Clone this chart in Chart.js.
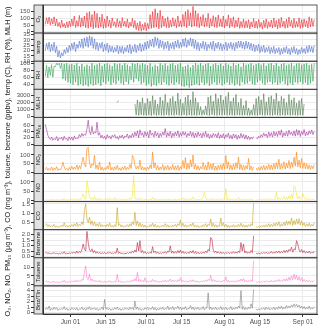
<!DOCTYPE html>
<html>
<head>
<meta charset="utf-8">
<script src="https://cdn.jsdelivr.net/npm/chart.js@4.4.0/dist/chart.umd.min.js"></script>
<style>
  html, body { margin: 0; padding: 0; background: #fff; }
</style>
</head>
<body>
<canvas id="chart" width="320" height="327"></canvas>
<script>
// days are counted from Jun 01; values are every 12 hours starting May 22
const startDay = -10;
const stepDays = 0.5;

const dateTicks = [0, 14, 30, 44, 61, 75, 92];
const dateLabels = ["Jun 01", "Jun 15", "Jul 01", "Jul 15", "Aug 01", "Aug 15", "Sep 01"];

// panels, top to bottom
const panelNames = ["O₃", "temp", "RH", "MLH", "PM₁₀", "NO₂", "NO", "CO", "Benzene", "Toluene", "Bnz/Tln"];
const panelColors = ["#e8242a", "#4f6fcf", "#31a354", "#4e7a4e", "#a1339c", "#ff7f00",
                     "#f5e52e", "#c9a21b", "#b8233f", "#ff78c8", "#7f7f7f"];
const panelMin = [-10, 10, 25, -180, -4, -8, -6, 0.13, -0.12, -0.8, -0.25];
const panelMax = [200, 36.5, 106, 3950, 84, 155, 145, 1.62, 2.45, 15.5, 4.85];
const panelTicks = [
  [0, 50, 100, 150],
  [10, 15, 20, 25, 30, 35],
  [40, 60, 80, 100],
  [0, 1000, 2000, 3000],
  [0, 20, 40, 60],
  [0, 50, 100],
  [0, 50, 100],
  [0.5, 1.0, 1.5],
  [0, 0.5, 1.0, 1.5, 2.0],
  [0, 5, 10],
  [0, 1, 2, 3, 4]
];
const tickDecimals = [0, 0, 0, 0, 0, 0, 0, 1, 1, 0, 0];

const o3 = [
  55,105,60,110,52,98,58,112,45,95,40,70,30,88,35,62,28,75,30,80,
  38,95,45,118,32,84,40,122,35,105,42,118,30,142,25,150,35,128,22,155,
  30,138,28,110,35,132,25,96,30,118,40,88,28,104,45,75,32,98,38,82,
  30,106,42,80,35,96,28,72,40,100,30,84,15,66,10,78,5,55,12,70,
  8,62,20,128,25,150,30,172,35,140,22,160,30,118,40,100,32,112,28,88,
  35,105,42,92,30,118,38,84,35,130,40,150,30,165,45,142,35,190,42,158,
  38,136,30,112,45,128,35,104,40,138,28,98,42,120,35,110,30,126,40,96,
  35,118,30,92,42,126,28,100,38,112,30,88,36,104,25,78,32,95,28,82,
  30,90,22,74,35,98,28,80,25,92,32,70,20,86,30,96,25,76,35,88,
  28,102,35,84,22,96,30,108,38,80,25,94,30,110,40,86,28,100,32,78,
  35,104,25,90,30,96,38,82,28,112,35,98,40,92
];
const temp = [
  20,27,21,28,19,26,20,28,18,24,14,20,13,18,15,21,17,23,18,25,
  20,27,21,28,19,26,22,29,23,31,22,32,24,33,23,34,25,33,22,31,
  21,28,20,27,22,28,19,26,20,27,18,25,19,24,18,23,19,25,17,24,
  18,24,17,23,19,25,18,26,17,24,19,26,18,25,20,27,19,26,20,28,
  21,29,22,30,24,31,23,33,25,32,22,30,23,29,21,28,22,29,20,27,
  22,28,21,29,23,30,22,28,23,31,24,32,23,30,25,32,24,31,22,30,
  21,28,20,27,22,29,21,28,20,26,22,28,21,29,20,27,22,28,21,27,
  20,26,21,28,20,27,22,28,21,27,20,28,22,29,23,29,22,28,21,29,
  22,28,21,27,20,26,19,25,20,26,18,24,19,25,18,23,19,24,17,23,
  18,24,17,22,18,23,16,22,17,23,18,24,17,22,16,23,18,24,17,22,
  16,21,17,23,18,22,17,24,18,25,19,24,18,25
];
const rh = [
  62,94,58,90,65,96,60,92,90,100,95,100,85,100,55,98,50,100,45,96,
  42,98,38,95,45,100,36,92,40,98,35,90,38,96,33,92,40,100,36,94,
  38,97,42,100,35,93,45,98,40,100,48,96,38,92,44,100,40,97,50,99,
  42,95,38,100,46,96,40,92,52,100,45,98,55,100,48,96,40,100,44,97,
  36,94,40,100,33,90,38,96,35,92,42,100,38,95,45,99,40,93,36,98,
  42,100,38,94,45,97,40,100,34,90,32,92,36,96,30,88,35,95,38,100,
  40,96,36,100,44,94,38,98,42,100,35,92,40,97,45,100,38,95,42,99,
  36,93,40,100,44,96,38,92,42,100,36,95,40,98,35,90,45,100,40,96,
  42,97,48,100,40,94,38,98,45,100,50,96,42,100,38,93,44,99,46,100,
  40,95,44,100,38,92,42,98,48,100,40,94,36,97,42,100,38,93,45,99,
  42,100,46,96,40,98,44,100,38,95,42,97,48,100
];
const mlh = [
  null,null,null,null,null,null,null,null,null,null,null,null,null,null,null,null,null,null,null,null,
  null,null,null,null,null,null,null,null,null,null,null,null,null,null,null,null,null,null,null,null,
  null,null,null,null,null,null,null,null,null,null,null,null,null,null,null,null,null,2000,2300,null,
  null,null,null,null,null,null,null,null,null,null,null,1800,150,2400,100,2100,200,2700,120,1900,
  100,2600,150,2200,80,3000,200,2400,100,1800,150,2800,120,2300,90,3200,180,2000,100,2600,
  150,2900,100,2200,200,3400,120,2500,100,1900,180,2800,90,3100,150,2400,110,3600,130,2700,
  100,2000,160,1400,120,900,200,1500,140,2800,100,3000,180,2200,120,3300,90,2600,150,3100,
  110,2400,170,2900,100,3500,140,2200,120,2700,90,3200,160,2000,130,2600,100,1600,150,2300,
  120,1200,100,900,150,1700,110,2600,90,2900,170,2400,130,3300,100,2100,150,2800,120,3000,
  100,2500,160,3400,130,2200,90,2900,140,2600,110,2000,170,3200,100,2400,150,2700,120,1900,
  100,2300,140,2600,120,1800,null,null,null,null,null,null,null,null
];
const pm10 = [
  62,45,28,20,15,22,12,18,14,24,10,20,16,22,12,25,15,19,11,23,
  14,22,12,26,16,20,18,30,22,34,25,32,28,48,75,40,30,56,32,38,
  35,69,28,36,20,28,18,25,15,30,20,26,16,28,22,30,18,24,15,27,
  20,29,17,26,22,32,18,28,20,34,22,38,25,42,20,45,28,36,22,40,
  25,38,20,44,28,35,22,40,25,36,20,34,24,38,28,49,22,36,25,40,
  20,35,24,38,26,42,22,36,25,40,28,38,22,34,26,40,24,37,20,35,
  22,38,25,34,20,36,24,40,22,33,18,30,20,34,24,32,20,36,18,30,
  20,33,17,30,22,35,18,28,16,32,20,30,15,28,18,34,20,31,16,29,
  15,25,14,22,16,24,null,20,17,25,20,30,22,35,25,32,20,38,24,36,
  22,40,26,38,24,42,28,45,22,36,26,40,25,44,30,38,27,42,25,46,
  28,44,24,40,30,46,26,38,28,42,32,45,30,40
];
const no2 = [
  15,28,10,22,12,30,8,25,14,32,10,20,12,26,58,30,14,22,10,28,
  12,35,15,30,18,42,14,38,20,55,87,45,30,136,145,60,25,48,40,97,
  20,42,15,58,12,30,10,26,14,35,18,60,12,28,10,32,15,40,12,25,
  10,30,14,36,12,28,16,45,22,97,80,40,18,35,20,70,14,32,12,28,
  10,30,15,42,20,116,25,55,14,38,12,30,16,44,10,35,14,40,12,32,
  15,45,12,36,14,40,10,33,18,68,22,85,15,50,20,72,30,100,18,45,
  14,38,12,32,18,56,15,42,12,60,16,48,14,52,10,35,12,40,15,44,
  14,50,18,97,20,60,15,42,12,48,16,55,22,88,15,46,12,40,14,38,
  18,80,12,36,10,30,null,25,10,28,12,34,14,40,12,36,16,45,14,42,
  15,50,18,55,20,75,16,48,22,60,18,52,25,68,20,58,28,87,35,116,
  30,70,25,80,22,55,20,48,18,42,15,38,20,45
];
const no = [
  2,6,1,4,3,8,2,5,1,7,2,4,3,9,2,12,1,5,2,6,
  3,8,2,10,4,12,3,9,5,18,35,12,8,107,64,20,6,15,4,22,
  3,10,2,14,4,8,2,6,3,12,2,15,4,9,3,16,2,8,3,11,
  2,7,3,10,2,6,4,14,5,22,134,18,4,12,3,15,2,8,3,6,
  2,5,3,10,4,18,3,12,2,8,3,6,2,10,3,7,2,9,3,6,
  2,8,3,6,2,10,3,7,4,15,3,12,2,8,3,14,4,20,3,9,
  2,7,3,10,4,22,44,12,3,9,2,8,3,12,2,7,3,10,2,8,
  3,12,4,64,3,14,2,8,3,10,2,7,4,18,3,9,2,6,3,8,
  2,10,3,7,2,6,null,5,1,6,2,8,3,10,2,9,3,12,2,8,
  3,10,4,44,5,15,3,12,6,22,4,18,5,25,8,35,10,80,70,30,
  8,22,6,18,38,15,5,12,4,10,3,8,4,9
];
const co = [
  0.35,0.45,0.3,0.4,0.28,0.36,0.3,0.42,0.26,0.34,0.25,0.32,0.28,0.38,0.3,0.5,0.27,0.35,0.26,0.36,
  0.28,0.4,0.3,0.45,0.32,0.5,0.3,0.42,0.35,0.55,0.4,1.14,1.5,0.7,0.5,0.8,0.4,0.6,0.35,0.55,
  0.32,0.45,0.3,0.5,0.28,0.4,0.3,0.38,0.27,0.42,0.3,0.48,0.28,0.36,0.26,0.4,0.3,1.3,0.35,0.45,
  0.28,0.38,0.26,0.34,0.3,0.4,0.28,0.45,0.32,0.55,0.4,1.05,0.35,0.6,0.3,0.5,0.28,0.42,0.26,0.38,
  0.25,0.33,0.27,0.4,0.3,0.48,0.28,0.42,0.26,0.36,0.25,0.34,0.27,0.38,0.3,0.45,0.28,0.4,0.26,0.35,
  0.27,0.38,0.3,0.42,0.28,0.45,0.35,0.65,0.3,0.48,0.28,0.4,0.26,0.36,0.3,0.44,0.32,0.5,0.28,0.38,
  0.26,0.35,0.25,0.33,0.28,0.4,0.3,0.45,0.28,0.42,0.35,0.7,0.3,0.48,0.28,0.4,0.26,0.38,0.3,0.75,
  0.32,0.5,0.28,0.42,0.26,0.38,0.25,0.35,0.27,0.4,0.26,0.36,0.28,0.42,0.3,0.48,0.28,0.4,0.26,0.38,
  0.27,0.4,0.3,0.45,0.35,1.55,null,0.3,0.25,0.32,0.26,0.35,0.28,0.38,0.27,0.4,0.3,0.45,0.28,0.42,
  0.3,0.48,0.32,0.5,0.35,0.55,0.3,0.45,0.33,0.52,0.35,0.6,0.38,0.58,0.4,0.75,0.36,0.62,0.4,0.7,
  0.42,0.72,0.38,0.6,0.35,0.5,0.3,0.45,0.32,0.48,0.3,0.42,0.33,0.5
];
const benzene = [
  0.3,0.4,0.25,0.35,0.22,0.3,0.28,0.38,0.24,0.32,0.2,0.3,0.25,0.35,0.28,0.45,0.22,0.32,0.24,0.34,
  0.26,0.38,0.3,0.42,0.28,0.5,0.3,0.45,0.35,0.6,1.14,0.7,0.5,2.3,1.28,0.6,0.45,0.7,0.35,0.55,
  0.3,0.45,0.28,0.4,0.25,0.35,0.27,0.38,0.24,0.36,0.3,0.42,0.26,0.34,0.25,0.38,0.3,0.77,0.28,0.4,
  0.24,0.34,0.22,0.3,0.25,0.36,0.28,0.4,0.3,0.5,0.35,0.6,0.4,1.28,0.5,1.45,0.35,0.55,0.3,0.45,
  0.26,0.36,0.28,0.4,0.3,0.9,0.35,0.5,0.28,0.42,0.25,0.35,0.27,0.4,0.3,0.45,0.28,0.5,0.4,0.98,
  0.3,0.5,0.28,0.45,0.3,0.55,0.32,0.6,0.3,0.48,0.28,0.42,0.26,0.38,0.3,0.5,0.32,0.55,0.28,0.45,
  0.26,0.4,0.24,0.36,0.28,0.42,0.3,0.5,0.35,0.65,0.5,1.74,1.6,0.6,0.35,0.5,0.3,0.45,0.28,0.42,
  0.26,0.38,0.25,0.36,0.28,0.4,0.26,0.38,0.3,0.45,0.28,0.42,0.3,0.5,0.35,1.28,0.5,1.14,0.32,0.5,
  0.28,0.42,0.3,0.55,0.35,1.9,null,0.3,0.24,0.32,0.25,0.35,0.26,0.38,0.28,0.4,0.26,0.36,0.3,0.45,
  0.28,0.42,0.3,0.48,0.32,0.5,0.3,0.45,0.34,0.55,0.35,0.6,0.38,0.65,0.5,0.86,0.4,0.7,0.6,1.45,
  1.14,0.6,0.4,0.65,0.35,0.55,0.3,0.45,0.32,0.5,0.28,0.42,0.3,0.48
];
const toluene = [
  1.5,2.2,1.2,1.8,1,1.6,1.3,2,1.1,1.7,0.9,1.5,1.2,1.9,1.4,2.5,1.1,1.6,1.2,1.8,
  1.3,2,1.5,2.4,1.4,2.6,1.6,2.2,1.8,3,2.5,6.9,10.8,3.5,2.8,6.2,2.2,3.2,1.8,2.6,
  1.5,2.2,1.4,2.5,1.2,1.8,1.3,2,1.1,1.9,1.4,2.3,1.2,1.7,1.1,2,1.5,6,1.4,2.2,
  1.2,1.8,1,1.6,1.3,2,1.4,2.2,1.6,2.8,1.8,3.5,2,7,1.8,3,1.6,2.5,1.5,4,
  1.3,2,1.4,2.2,1.5,3,1.6,2.5,1.4,2.1,1.2,1.9,1.4,2.3,1.6,2.6,1.5,2.4,1.8,3.2,
  1.6,2.6,1.5,2.4,1.6,2.8,1.8,4,1.6,2.5,1.5,2.2,1.4,2,1.6,2.6,1.7,2.8,1.5,2.3,
  1.4,2.1,1.3,1.9,1.5,2.3,1.6,2.6,1.8,3,2.2,5.3,1.8,3,1.6,2.5,1.5,2.2,1.4,2.1,
  1.5,2.4,2,4.5,1.6,2.5,1.4,2.1,1.5,2.3,1.4,2.2,1.6,2.6,1.8,3.2,2,3.6,1.6,2.5,
  1.5,2.3,1.6,2.8,1.8,13.8,null,1.5,1.1,1.7,1.2,1.8,1.3,2,1.4,2.2,1.3,2,1.5,2.4,
  1.4,2.2,1.6,2.6,1.8,3,1.6,2.5,1.9,3.2,2,3.6,2.2,4.2,2.5,5,2.8,6,3,5.5,
  2.5,4.5,2.2,4,1.8,3,1.6,2.6,1.5,2.4,1.4,2.2,1.6,2.5
];
const bnzTln = [
  0.5,0.9,0.6,1.2,0.4,0.8,0.5,1,0.6,0.9,0.4,0.7,0.5,0.8,0.6,1.1,0.5,0.8,0.4,0.7,
  0.5,0.9,0.6,0.8,0.5,0.9,0.4,0.7,0.6,1,0.5,0.8,0.4,0.9,0.6,1.1,0.5,0.8,0.6,0.9,
  0.5,0.8,0.4,0.7,0.6,1,0.5,2.4,0.6,0.9,0.5,0.8,0.4,0.7,0.5,0.9,0.6,1,0.5,0.8,
  0.4,0.7,0.5,0.9,0.6,0.8,0.5,1,0.6,0.9,0.5,2.1,0.6,1,0.5,0.8,0.4,0.7,0.5,0.9,
  0.6,1,0.5,0.8,0.6,1.1,0.5,0.9,0.4,0.8,0.5,0.9,0.6,1,0.5,0.8,0.6,1.2,0.5,0.9,
  0.6,1.1,0.5,0.9,0.7,1.2,0.6,1,0.5,0.9,0.6,1.1,0.5,0.8,0.7,1.3,0.6,1,0.5,0.9,
  0.6,1,0.5,0.8,0.6,1.1,0.5,0.9,0.8,3.6,0.6,1,0.5,0.9,0.6,1,0.5,0.8,0.6,1.1,
  0.5,0.9,0.6,1,0.5,0.8,0.6,1.1,0.5,0.9,0.6,1,0.7,1.2,0.8,4,0.6,1.1,0.5,0.9,
  0.6,1,0.7,1.6,0.8,4.2,null,0.7,0.4,0.7,0.5,0.8,0.6,0.9,0.5,1,0.6,0.9,0.5,0.8,
  0.6,1,0.5,0.9,0.6,1.1,0.7,1.2,0.6,1,0.7,1.3,0.8,1.2,0.9,1.4,1,1.6,1.1,1.5,
  1,1.4,0.8,1.2,0.7,1.1,0.6,1,0.7,1.2,0.6,0.9,0.7,1.1
];

const series = [o3, temp, rh, mlh, pm10, no2, no, co, benzene, toluene, bnzTln];
const yTitle = "O₃, NO₂, NO, PM₁₀ (µg m⁻³), CO (mg m⁻³), toluene, benzene (ppbv), temp (C), RH (%), MLH (m)";

const fontFamily = '"Liberation Sans", Arial, sans-serif';
const inkColor = "#333333";

const datasets = series.map((vals, k) => ({
  label: panelNames[k],
  yAxisID: "p" + k,
  data: vals.map((v, i) => ({ x: startDay + i * stepDays, y: v })),
  borderColor: panelColors[k],
  borderWidth: 0.6,
  pointRadius: 0,
  tension: 0,
  spanGaps: false,
  fill: false
}));

const scales = {
  x: {
    type: "linear",
    position: "bottom",
    min: -10.9,
    max: 97.6,
    afterBuildTicks: (s) => { s.ticks = dateTicks.map(v => ({ value: v })); },
    afterFit: (s) => { s.height = 13; },
    ticks: {
      autoSkip: false, maxRotation: 0, padding: 1,
      color: "#4d4d4d", font: { family: fontFamily, size: 6.5 },
      callback: (v) => dateLabels[dateTicks.indexOf(v)]
    },
    grid: { color: "#ebebeb", tickColor: inkColor, tickLength: 3 },
    border: { color: inkColor }
  }
};
// bottom panel first: Chart.js stacks later-defined left axes above earlier ones
for (let k = panelNames.length - 1; k >= 0; k--) {
  scales["p" + k] = {
    type: "linear",
    position: "left",
    stack: "panels",
    stackWeight: 1,
    min: panelMin[k],
    max: panelMax[k],
    afterBuildTicks: (s) => { s.ticks = panelTicks[k].map(v => ({ value: v })); },
    afterFit: (s) => { s.width = 43; },
    ticks: {
      autoSkip: false, padding: 1,
      color: "#4d4d4d", font: { family: fontFamily, size: 6 },
      callback: (v) => Number(v).toFixed(tickDecimals[k])
    },
    grid: { color: "#ebebeb", tickColor: inkColor, tickLength: 12 },
    border: { color: inkColor }
  };
}

// strips, panel frames and the shared y title
const panelFrames = {
  id: "panelFrames",
  afterDraw(chart) {
    const { ctx, chartArea: a } = chart;
    ctx.save();
    panelNames.forEach((name, k) => {
      const s = chart.scales["p" + k];
      const h = s.bottom - s.top;
      ctx.fillStyle = "#e2e2e2";
      ctx.fillRect(a.left - 9, s.top, 9, h);
      ctx.strokeStyle = inkColor;
      ctx.lineWidth = 0.8;
      ctx.strokeRect(a.left - 9, s.top, 9, h);
      ctx.strokeRect(a.left, s.top, a.right - a.left, h);
      ctx.save();
      ctx.translate(a.left - 4.3, (s.top + s.bottom) / 2);
      ctx.rotate(-Math.PI / 2);
      ctx.fillStyle = "#1a1a1a";
      ctx.font = "6px " + fontFamily;
      ctx.textAlign = "center";
      ctx.textBaseline = "middle";
      ctx.fillText(name, 0, 0);
      ctx.restore();
    });

    let size = 7.5;
    ctx.font = size + "px " + fontFamily;
    const w = ctx.measureText(yTitle).width;
    if (w > 312) size = size * 312 / w;
    ctx.translate(8, (a.top + a.bottom) / 2 + 2);
    ctx.rotate(-Math.PI / 2);
    ctx.font = size + "px " + fontFamily;
    ctx.fillStyle = "#1a1a1a";
    ctx.textAlign = "center";
    ctx.textBaseline = "middle";
    ctx.fillText(yTitle, 0, 0);
    ctx.restore();
  }
};

new Chart(document.getElementById("chart").getContext("2d"), {
  type: "line",
  data: { datasets },
  options: {
    responsive: false,
    animation: false,
    devicePixelRatio: 1,
    layout: { padding: { top: 5, right: 3, left: 0, bottom: 0 } },
    plugins: { legend: { display: false }, tooltip: { enabled: false } },
    scales
  },
  plugins: [panelFrames]
});
</script>
</body>
</html>
